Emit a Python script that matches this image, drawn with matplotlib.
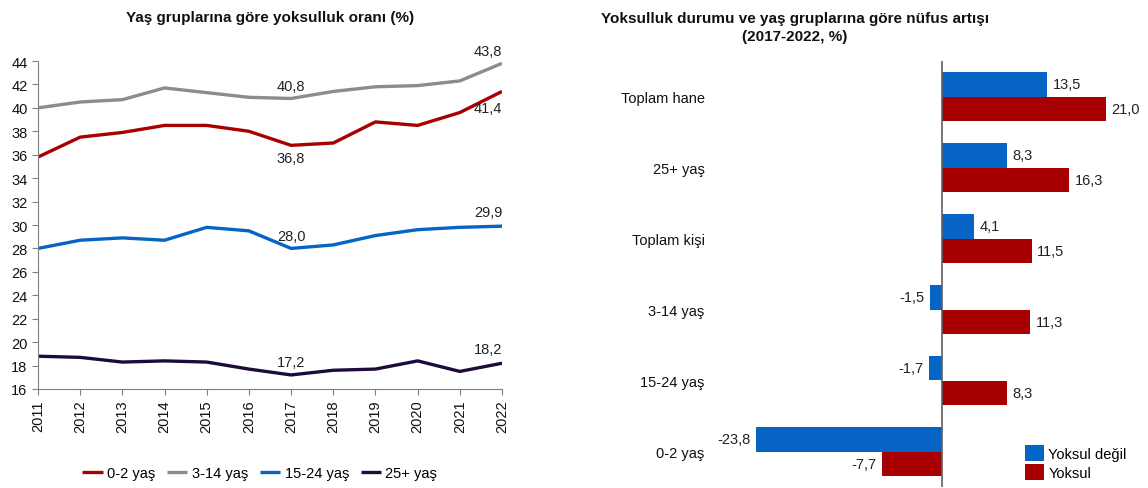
import matplotlib.pyplot as plt
import numpy as np

plt.rcParams['font.family'] = ['Liberation Sans', 'DejaVu Sans']

# ==========================================
# DATA
# ==========================================
years = [2011, 2012, 2013, 2014, 2015, 2016, 2017, 2018, 2019, 2020, 2021, 2022]
rate_0_2 = [35.8, 37.5, 37.9, 38.5, 38.5, 38.0, 36.8, 37.0, 38.8, 38.5, 39.6, 41.4]
rate_3_14 = [40.0, 40.5, 40.7, 41.7, 41.3, 40.9, 40.8, 41.4, 41.8, 41.9, 42.3, 43.8]
rate_15_24 = [28.0, 28.7, 28.9, 28.7, 29.8, 29.5, 28.0, 28.3, 29.1, 29.6, 29.8, 29.9]
rate_25_plus = [18.8, 18.7, 18.3, 18.4, 18.3, 17.7, 17.2, 17.6, 17.7, 18.4, 17.5, 18.2]

groups = ['Toplam hane', '25+ yaş', 'Toplam kişi', '3-14 yaş', '15-24 yaş', '0-2 yaş']
not_poor = [13.5, 8.3, 4.1, -1.5, -1.7, -23.8]
poor = [21.0, 16.3, 11.5, 11.3, 8.3, -7.7]

RED = '#A80000'
GRAY = '#8C8C8C'
BLUE = '#0564C4'
NAVY = '#1E0B3E'


def fmt(v):
    return f"{v:.1f}".replace('.', ',')


fig = plt.figure(figsize=(11.48, 4.89), dpi=100)

# ==========================================
# LEFT: LINE CHART
# ==========================================
ax1 = fig.add_axes([38 / 1148, 1 - 390 / 489, 464 / 1148, 328 / 489])
series = [(rate_0_2, RED, '0-2 yaş'), (rate_3_14, GRAY, '3-14 yaş'),
          (rate_15_24, BLUE, '15-24 yaş'), (rate_25_plus, NAVY, '25+ yaş')]
for vals, col, lab in series:
    ax1.plot(years, vals, color=col, lw=2.4, label=lab, solid_capstyle='butt')

ax1.set_xlim(2011, 2022)
ax1.set_ylim(16, 44)
ax1.set_yticks(np.arange(16, 45, 2))
ax1.set_xticks(years)
ax1.set_xticklabels([str(y) for y in years], rotation=90)
ax1.tick_params(axis='both', labelsize=10.5, length=4, colors='#111111')
ax1.tick_params(axis='both', color='#808080')
for s in ['top', 'right']:
    ax1.spines[s].set_visible(False)
for s in ['left', 'bottom']:
    ax1.spines[s].set_color('#808080')

i17 = years.index(2017)
i22 = years.index(2022)
ann = [
    (i22, rate_3_14, 4), (i22, rate_0_2, -7), (i17, rate_3_14, 4), (i17, rate_0_2, -4),
    (i22, rate_15_24, 5), (i17, rate_15_24, 4), (i17, rate_25_plus, 4), (i22, rate_25_plus, 5),
]
for idx, vals, dy in ann:
    dx = -10 if idx == i22 else 0
    ax1.annotate(fmt(vals[idx]), (years[idx], vals[idx]), xytext=(dx, dy),
                 textcoords='offset points', ha='center',
                 va='bottom' if dy > 0 else 'top', fontsize=10.5, color='#222222')

fig.text(270 / 1148, 1 - 18 / 489, 'Yaş gruplarına göre yoksulluk oranı (%)',
         ha='center', va='center', fontsize=11, fontweight='bold', color='#111111')
ax1.legend(loc='center', bbox_to_anchor=(0.478, -0.255), ncol=4, frameon=False,
           fontsize=10.5, handlelength=1.4, columnspacing=0.8, handletextpad=0.3)

# ==========================================
# RIGHT: HORIZONTAL BARS
# ==========================================
ax2 = fig.add_axes([720 / 1148, 1 - 488 / 489, 420 / 1148, 426 / 489])
ypos = np.arange(len(groups))
h = 0.352
ax2.barh(ypos - h / 2, not_poor, height=h, color=BLUE, label='Yoksul değil')
ax2.barh(ypos + h / 2, poor, height=h, color=RED, label='Yoksul')

for y, v in zip(ypos - h / 2, not_poor):
    ax2.annotate(fmt(v), (v, y), xytext=(4 if v > 0 else -4, 0), textcoords='offset points',
                 ha='left' if v > 0 else 'right', va='center', fontsize=10.5, color='#222222')
for y, v in zip(ypos + h / 2, poor):
    ax2.annotate(fmt(v), (v, y), xytext=(4 if v > 0 else -4, 0), textcoords='offset points',
                 ha='left' if v > 0 else 'right', va='center', fontsize=10.5, color='#222222')

ax2.set_xlim(-28.46, 25.4)
ax2.set_ylim(len(groups) - 0.5, -0.5)
ax2.set_yticks(ypos)
ax2.set_yticklabels(groups)
ax2.set_xticks([])
ax2.tick_params(axis='y', length=0, pad=11, labelsize=10.5, colors='#111111')
for s in ['top', 'right', 'bottom', 'left']:
    ax2.spines[s].set_visible(False)
ax2.axvline(0, color='#606060', lw=1.2)

ax2.legend(loc='lower right', bbox_to_anchor=(1.0, -0.015), frameon=False, fontsize=10.5,
           handlelength=1.3, handleheight=1.3, handletextpad=0.3, labelspacing=0.25)

fig.text(795 / 1148, 1 - 28 / 489, 'Yoksulluk durumu ve yaş gruplarına göre nüfus artışı\n(2017-2022, %)',
         ha='center', va='center', fontsize=11, fontweight='bold', color='#111111',
         linespacing=1.3)

fig.savefig('out.png', dpi=100)
